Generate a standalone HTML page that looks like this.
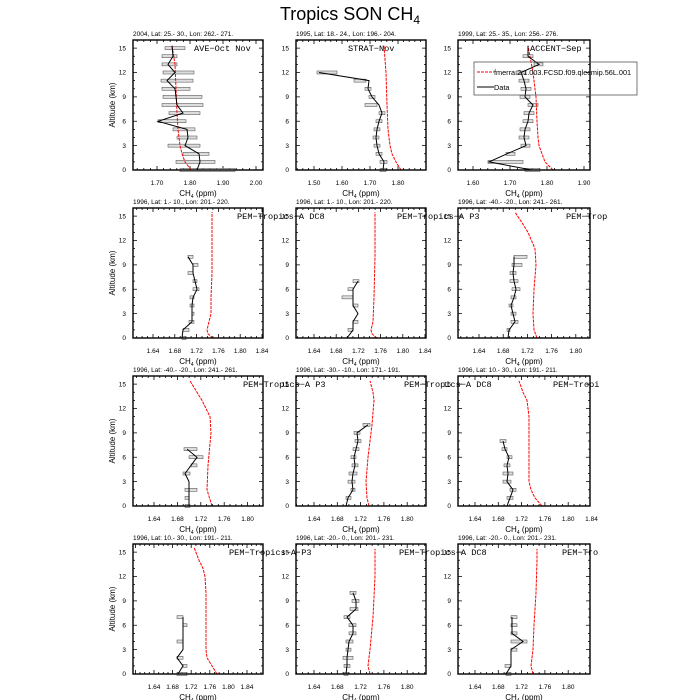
<!DOCTYPE html>
<html><head><meta charset="utf-8"><style>
html,body{margin:0;padding:0;background:#fff;}
svg{display:block;}
</style></head><body>
<svg id="s" width="700" height="700" xmlns="http://www.w3.org/2000/svg" font-family="Liberation Sans, sans-serif"></svg>
<script>
const S=document.getElementById('s');
let h='';
h+='<text x="350" y="20" font-size="18" text-anchor="middle">Tropics SON CH<tspan font-size="12" dy="4">4</tspan></text>';
const cols=[133,296,458], rows=[40,208,376,544], W=130, H=130;
const P=[
 {c:0,r:0,hd:'2004, Lat: 25.- 30., Lon: 262.- 271.',lab:'AVE\u2212Oct Nov',lx:194,t0:1.70,st:0.1,px0:157,ps:33,nl:4,sub:5,dec:2,
  line:[[0,197],[1,200],[2,199],[3,185],[4,188],[5,187],[6,158],[7,183],[8,177],[9,176],[10,175],[11,167],[12,175],[13,168],[14,173],[15.3,172]],
  bars:[[0,180,235],[1,176,215],[2,183,209],[3,168,200],[4,177,197],[5,173,195],[6,158,186],[7,169,200],[8,162,203],[9,163,202],[10,162,190],[11,161,193],[12,163,194],[13,162,177],[14,162,177],[15,165,185]],
  red:[[0,191],[1,185],[2,182],[3,180],[5,178],[7,177],[10,176],[13,175],[15.3,172]]},
 {c:1,r:0,hd:'1995, Lat: 18.- 24., Lon: 196.- 204.',lab:'STRAT\u2212Nov',lx:348,t0:1.50,st:0.1,px0:314,ps:28,nl:4,sub:5,dec:2,
  line:[[0,383],[1,384],[2,379],[3,377],[4,376],[5,377],[6,379],[7,382],[8,379],[9,372],[10,368],[11,369],[12,319]],
  bars:[[0,380,386],[1,380,387],[2,376,382],[3,374,380],[4,373,379],[5,374,380],[6,376,382],[7,379,385],[8,365,377],[9,369,375],[10,365,371],[11,354,366],[12,317,337]],
  red:[[0,401],[1,396],[2,392],[3,390],[5,388],[8,387],[12,386],[15.3,384]]},
 {c:2,r:0,hd:'1999, Lat: 25.- 35., Lon: 256.- 276.',lab:'ACCENT\u2212Sep',lx:530,t0:1.60,st:0.1,px0:473,ps:37,nl:4,sub:5,dec:2,
  line:[[0,532],[1,489],[2,507],[3,526],[4,524],[5,525],[6,528],[7,529],[8,533],[9,525],[10,526],[11,524],[12,521],[13,539],[14,528],[15.3,528]],
  bars:[[0,525,540],[1,488,523],[2,506,515],[3,521,530],[4,519,529],[5,520,530],[6,523,533],[7,524,534],[8,528,538],[9,520,530],[10,521,531],[11,519,529],[12,516,526],[13,534,543],[14,523,533]],
  red:[[0,553],[1,545],[2,542],[3,539],[4,538],[6,537],[9,536],[12,533],[15.3,528]]},
 {c:0,r:1,hd:'1996, Lat: 1.- 10., Lon: 201.- 220.',lab:'PEM\u2212Tropics\u2212A DC8',lx:237,t0:1.64,st:0.04,px0:153,ps:21.8,nl:6,sub:4,dec:2,
  line:[[0,182],[1,183],[2,192],[3,192],[4,192],[5,193],[6,197],[7,195],[8,193],[9,193],[10,188]],
  bars:[[0,182,186],[1,183,189],[2,189,194],[3,192,194],[4,190,194],[5,190,194],[6,193,199],[7,193,197],[8,188,193],[9,193,198],[10,188,193]],
  red:[[0,213],[0.5,208],[1,207],[2,209],[3,211],[5,211],[8,212],[12,212],[15.5,212]]},
 {c:1,r:1,hd:'1996, Lat: 1.- 10., Lon: 201.- 220.',lab:'PEM\u2212Tropics\u2212A P3',lx:397,t0:1.64,st:0.04,px0:314,ps:22.2,nl:6,sub:4,dec:2,
  line:[[0,347],[1,353],[2,353],[3,358],[4,353],[5,353],[6,353],[7,358]],
  bars:[[1,348,353],[2,353,358],[4,353,358],[5,342,353],[6,348,353],[7,353,359]],
  red:[[0,377],[0.5,372],[1,371],[2,373],[5,374],[10,375],[15.5,375]]},
 {c:2,r:1,hd:'1996, Lat: -40.- -20., Lon: 241.- 261.',lab:'PEM\u2212Trop',lx:566,t0:1.64,st:0.04,px0:479,ps:24.2,nl:5,sub:4,dec:2,
  line:[[0,508],[1,509],[2,515],[3,513],[4,511],[5,514],[6,516],[7,514],[8,513],[9,514],[10,514]],
  bars:[[1,507,510],[2,511,518],[3,511,516],[4,509,513],[5,511,516],[6,512,520],[7,510,518],[8,510,516],[9,512,522],[10,514,527]],
  red:[[0,537],[1,534],[3,533],[6,534],[9,536],[11,535],[13,528],[14,523],[15.5,515]]},
 {c:0,r:2,hd:'1996, Lat: -40.- -20., Lon: 241.- 261.',lab:'PEM\u2212Tropics\u2212A P3',lx:243,t0:1.64,st:0.04,px0:154,ps:23.4,nl:5,sub:4,dec:2,
  line:[[0,189],[1,189],[2,189],[3,189],[4,185],[5,191],[6,197],[7,187]],
  bars:[[0,185,190],[1,185,189],[2,185,197],[4,183,190],[5,191,197],[6,189,203],[7,184,197]],
  red:[[0,212],[2,207],[5,208],[9,211],[11,210],[13,202],[14,197],[15.4,190]]},
 {c:1,r:2,hd:'1996, Lat: -30.- -10., Lon: 171.- 191.',lab:'PEM\u2212Tropics\u2212A DC8',lx:404,t0:1.64,st:0.04,px0:314,ps:23.3,nl:5,sub:4,dec:2,
  line:[[0,346],[1,348],[2,353],[3,352],[4,353],[5,355],[6,354],[7,356],[8,358],[9,357],[10,368]],
  bars:[[1,346,351],[2,351,355],[3,348,355],[4,349,357],[5,352,358],[6,351,356],[7,353,359],[8,355,361],[9,354,360],[10,363,370]],
  red:[[0,369],[1,367],[3,366],[6,368],[10,372],[13,374],[14,373],[15.4,370]]},
 {c:2,r:2,hd:'1996, Lat: 10.- 30., Lon: 191.- 211.',lab:'PEM\u2212Tropi',lx:553,t0:1.64,st:0.04,px0:475,ps:23.3,nl:6,sub:4,dec:2,
  line:[[0,507],[1,510],[2,513],[3,507],[4,508],[5,507],[6,509],[7,505],[8,503]],
  bars:[[1,507,513],[2,510,516],[3,503,511],[4,503,513],[5,504,510],[6,507,512],[7,502,507],[8,500,506]],
  red:[[0,542],[1,535],[2,531],[3,529],[5,529],[9,529],[11,529],[13,527],[14,523],[15.4,519]]},
 {c:0,r:3,hd:'1996, Lat: 10.- 30., Lon: 191.- 211.',lab:'PEM\u2212Tropics\u2212A P3',lx:229,t0:1.64,st:0.04,px0:154,ps:18.6,nl:6,sub:4,dec:2,
  line:[[0,178],[1,183],[2,177],[3,183],[4,183],[5,183],[6,183],[7,183]],
  bars:[[0,177,187],[1,183,187],[2,177,183],[4,177,183],[6,183,187],[7,177,183]],
  red:[[0,217],[1,212],[2,207],[3,206],[6,206],[10,206],[12,205],[13,203],[14,199],[15.6,194]]},
 {c:1,r:3,hd:'1996, Lat: -20.- 0., Lon: 201.- 231.',lab:'PEM\u2212Tropics\u2212A DC8',lx:399,t0:1.64,st:0.04,px0:314,ps:23.3,nl:5,sub:4,dec:2,
  line:[[0,346],[1,347],[2,347],[3,348],[4,349],[5,353],[6,353],[7,347],[8,356],[9,356],[10,353]],
  bars:[[0,344,348],[1,344,350],[2,343,353],[3,346,351],[4,346,353],[5,349,356],[6,349,356],[7,344,350],[8,350,358],[9,352,359],[10,350,356]],
  red:[[0,370],[1,368],[3,370],[7,373],[12,375],[15.4,375]]},
 {c:2,r:3,hd:'1996, Lat: -20.- 0., Lon: 201.- 231.',lab:'PEM\u2212Tro',lx:562,t0:1.64,st:0.04,px0:475,ps:23.3,nl:5,sub:4,dec:2,
  line:[[0,506],[1,511],[2,511],[3,511],[4,523],[5,512],[6,512],[7,512]],
  bars:[[0,506,511],[1,505,511],[3,511,517],[4,511,527],[5,511,517],[6,511,517],[7,511,517]],
  red:[[0,533],[1,531],[3,533],[6,534],[10,536],[14,537],[15.4,537]]}
];
let labels='';
for(const p of P){
  const x0=cols[p.c], y0=rows[p.r], wb=(p.c==2?132:W), x1=x0+wb, yb=y0+H;
  const Y=a=>yb-a*8.125;
  let t='';
  for(let k=0;k<=16;k++){const y=Y(k);const L=(k%3==0)?4:2;
    t+=`M${x0} ${y}h${L}M${x1} ${y}h${-L}`;}
  const mstep=p.ps/p.sub;
  let start=p.px0; while(start-mstep>=x0) start-=mstep;
  let idx=Math.round((p.px0-start)/mstep);
  for(let x=start,i=0;x<=x1+0.1;x+=mstep,i++){
    const maj=((i-idx)%p.sub==0); const L=maj?4:2;
    t+=`M${x.toFixed(1)} ${yb}v${-L}M${x.toFixed(1)} ${y0}v${L}`;
  }
  h+=`<path d="${t}" stroke="#000" stroke-width="0.8" fill="none"/>`;
  for(const b of p.bars){const y=Y(b[0]);
    h+=`<rect x="${b[1]}" y="${y-1.5}" width="${Math.max(b[2]-b[1],2)}" height="3" fill="#ddd" stroke="#444" stroke-width="0.5"/>`;}
  h+=`<polyline points="${p.red.map(q=>q[1]+','+Y(q[0]).toFixed(1)).join(' ')}" fill="none" stroke="#f00" stroke-width="1" stroke-dasharray="3,1"/>`;
  h+=`<polyline points="${p.line.map(q=>q[1]+','+Y(q[0]).toFixed(1)).join(' ')}" fill="none" stroke="#000" stroke-width="1"/>`;
  h+=`<rect x="${x0}" y="${y0}" width="${wb}" height="${H}" fill="none" stroke="#000" stroke-width="1.4"/>`;
  for(let k=0;k<=15;k+=3) h+=`<text x="${x0-7}" y="${Y(k)+2.2}" font-size="6.5" text-anchor="end">${k}</text>`;
  for(let i=0;i<p.nl;i++){const x=p.px0+i*p.ps; h+=`<text x="${x.toFixed(1)}" y="${yb+15}" font-size="6.5" text-anchor="middle">${(p.t0+i*p.st).toFixed(p.dec)}</text>`;}
  h+=`<text x="${x0+wb/2}" y="${yb+26}" font-size="8" text-anchor="middle">CH<tspan font-size="5" dy="2">4</tspan><tspan dy="-2"> (ppm)</tspan></text>`;
  h+=`<text x="${x0}" y="${y0-4}" font-size="6.5">${p.hd}</text>`;
  if(p.c==0) h+=`<text transform="translate(115,${y0+H/2}) rotate(-90)" font-size="8" text-anchor="middle">Altitude (km)</text>`;
  labels+=`<text x="${p.lx}" y="${y0+11}" font-size="8.6" font-family="Liberation Mono, monospace">${p.lab}</text>`;
}
h+=labels;
h+='<rect x="474" y="62" width="163" height="33" fill="none" stroke="#555" stroke-width="0.8"/>';
h+='<line x1="477" y1="72" x2="494" y2="72" stroke="#f00" stroke-dasharray="3,1"/>';
h+='<text x="494" y="75" font-size="7.3">fmerra.2.1.003.FCSD.f09.qlecmip.56L.001</text>';
h+='<line x1="477" y1="87" x2="494" y2="87" stroke="#000"/>';
h+='<text x="494" y="90" font-size="7.3">Data</text>';
S.innerHTML=h;
</script>
</body></html>
